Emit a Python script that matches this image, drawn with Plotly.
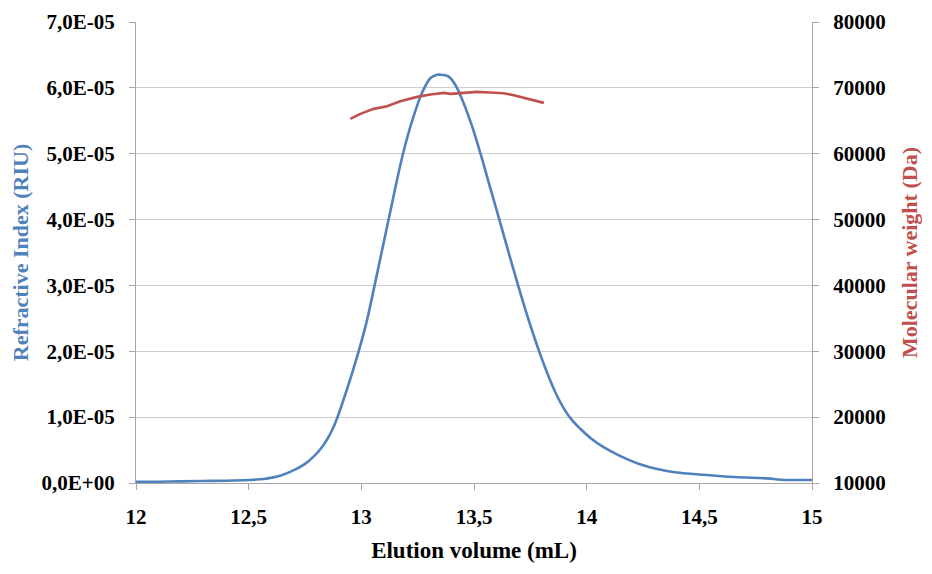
import plotly.graph_objects as go

# Refractive index trace (elution volume in mL, signal in RIU)
elution_ml = [12.00, 12.10, 12.20, 12.30, 12.40, 12.50, 12.565, 12.60, 12.64, 12.71,
              12.75, 12.788, 12.82, 12.848, 12.87, 12.892, 12.936, 12.988, 13.025, 13.06,
              13.121, 13.185, 13.232, 13.27, 13.307, 13.336, 13.351, 13.373, 13.388,
              13.418, 13.455, 13.492, 13.529, 13.573, 13.615, 13.662, 13.70, 13.729,
              13.759, 13.788, 13.825, 13.862, 13.899, 13.936, 13.973, 14.018, 14.077,
              14.143, 14.24, 14.329, 14.40, 14.5, 14.655, 14.803, 14.862, 15.0]
ri_riu = [0.20e-6, 0.20e-6, 0.25e-6, 0.30e-6, 0.35e-6, 0.45e-6, 0.60e-6, 0.80e-6, 1.10e-6, 2.10e-6,
          2.90e-6, 4.00e-6, 5.20e-6, 6.60e-6, 8.00e-6, 0.98e-5, 1.42e-5, 2.00e-5, 2.47e-5, 3.02e-5,
          4.00e-5, 5.00e-5, 5.57e-5, 5.93e-5, 6.15e-5, 6.20e-5, 6.20e-5, 6.19e-5, 6.17e-5,
          6.04e-5, 5.76e-5, 5.41e-5, 5.00e-5, 4.47e-5, 3.97e-5, 3.40e-5, 2.95e-5, 2.62e-5,
          2.30e-5, 2.01e-5, 1.67e-5, 1.37e-5, 1.13e-5, 0.95e-5, 0.82e-5, 0.68e-5, 0.54e-5,
          0.42e-5, 0.28e-5, 0.20e-5, 0.16e-5, 0.13e-5, 0.09e-5, 0.07e-5, 0.05e-5, 0.045e-5]

# Molecular weight across the peak (Da)
mw_elution_ml = [12.951, 12.996, 13.055, 13.114, 13.173, 13.248, 13.307, 13.366, 13.396,
                 13.455, 13.514, 13.573, 13.632, 13.677, 13.721, 13.766, 13.81]
mw_da = [65290, 66050, 66810, 67210, 67970, 68630, 68980, 69240, 69090,
         69290, 69390, 69290, 69180, 68880, 68480, 68180, 67720]

# Axis ticks
x_tick_vals = [12, 12.5, 13, 13.5, 14, 14.5, 15]
x_tick_text = ["12", "12,5", "13", "13,5", "14", "14,5", "15"]
ri_tick_vals = [0, 1e-5, 2e-5, 3e-5, 4e-5, 5e-5, 6e-5, 7e-5]
ri_tick_text = ["0,0E+00", "1,0E-05", "2,0E-05", "3,0E-05", "4,0E-05", "5,0E-05", "6,0E-05", "7,0E-05"]
mw_tick_vals = [10000, 20000, 30000, 40000, 50000, 60000, 70000, 80000]

BLUE = "#4F81BD"
RED = "#C0504D"
AXIS = "#A6A6A6"
GRID = "#CCCCCC"
FONT = "Liberation Serif"

tick_font = dict(family=FONT, size=21, color="black", weight="bold")

fig = go.Figure()
fig.add_trace(go.Scatter(
    x=elution_ml, y=ri_riu, mode="lines", yaxis="y",
    line=dict(color=BLUE, width=2.6, shape="spline", smoothing=1.0),
    hoverinfo="skip", showlegend=False,
))
fig.add_trace(go.Scatter(
    x=mw_elution_ml, y=mw_da, mode="lines", yaxis="y2",
    line=dict(color=RED, width=2.6),
    hoverinfo="skip", showlegend=False,
))

fig.update_layout(
    width=932, height=574,
    margin=dict(l=136, r=120, t=22, b=91),
    paper_bgcolor="white", plot_bgcolor="white",
    showlegend=False,
    xaxis=dict(
        range=[12, 15], tickvals=x_tick_vals, ticktext=x_tick_text,
        ticks="outside", ticklen=6, tickcolor=AXIS, tickwidth=1.2,
        showline=True, linecolor=AXIS, linewidth=1.3,
        showgrid=False, zeroline=False, tickfont=tick_font,
        ticklabelstandoff=9, automargin=False,
        title=dict(text="Elution volume (mL)", standoff=13,
                   font=dict(family=FONT, size=23, color="black", weight="bold")),
    ),
    yaxis=dict(
        range=[0, 7e-5], tickvals=ri_tick_vals, ticktext=ri_tick_text,
        ticks="outside", ticklen=6, tickcolor=AXIS, tickwidth=1.2,
        showline=True, linecolor=AXIS, linewidth=1.3,
        showgrid=True, gridcolor=GRID, gridwidth=1.4, zeroline=False,
        tickfont=tick_font, ticklabelstandoff=10, automargin=False,
        title=dict(text="Refractive Index (RIU)", standoff=6,
                   font=dict(family=FONT, size=22, color=BLUE, weight="bold")),
    ),
    yaxis2=dict(
        range=[10000, 80000], tickvals=mw_tick_vals, tickformat="d",
        overlaying="y", side="right",
        ticks="outside", ticklen=6, tickcolor=AXIS, tickwidth=1.2,
        showline=True, linecolor=AXIS, linewidth=1.3,
        showgrid=False, zeroline=False,
        tickfont=tick_font, ticklabelstandoff=10, automargin=False,
        title=dict(text="Molecular weight (Da)", standoff=16,
                   font=dict(family=FONT, size=22, color=RED, weight="bold")),
    ),
)

fig.write_html("out.html")
